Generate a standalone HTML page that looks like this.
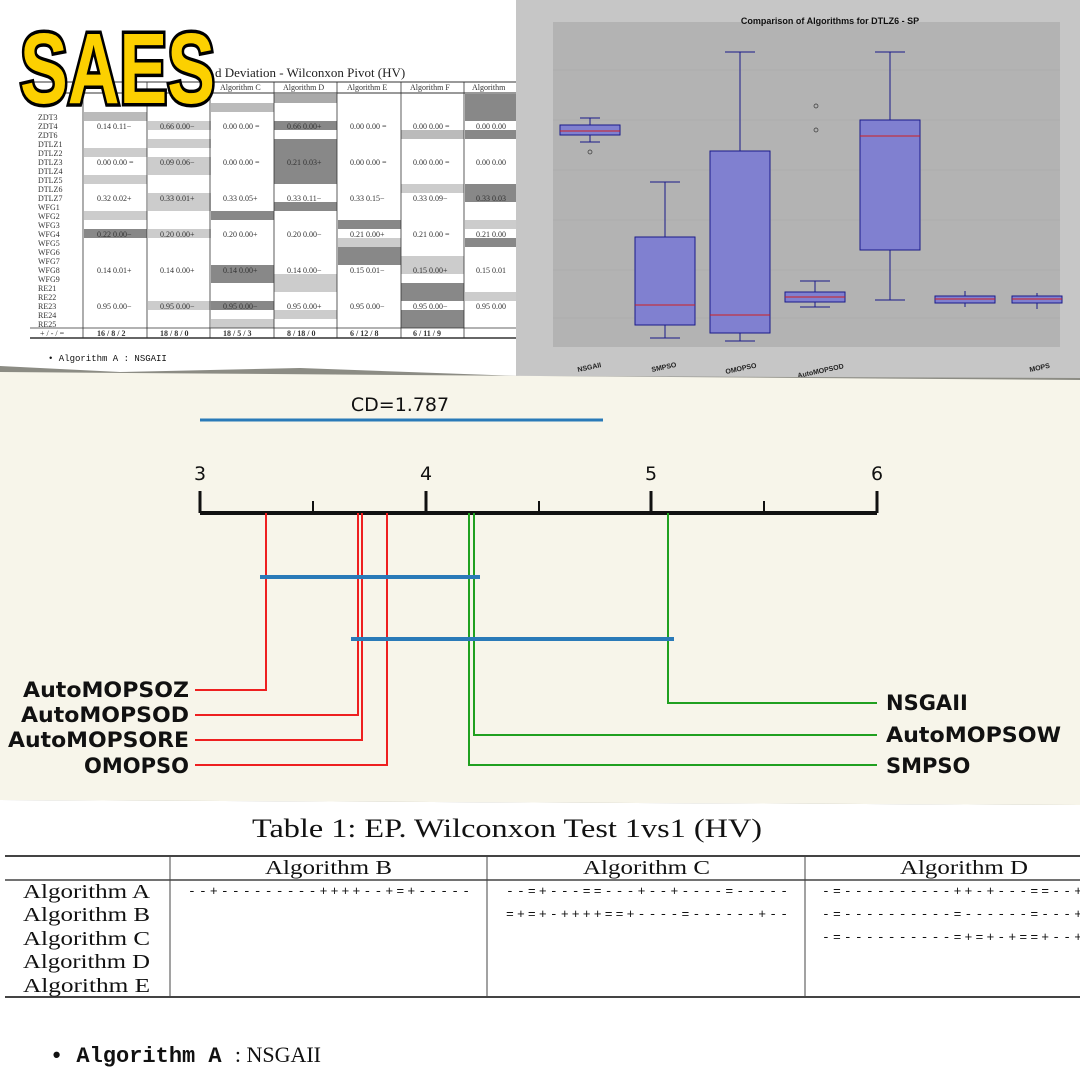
<!DOCTYPE html>
<html><head><meta charset="utf-8"><style>
body{margin:0;width:1080px;height:1080px;overflow:hidden;background:#fff;font-family:"Liberation Serif",serif;position:relative}
.a{position:absolute}
</style></head><body>
<svg class="a" style="left:0;top:0" width="1080" height="1080">
<rect x="0" y="0" width="518" height="372" fill="#fff"/>
<g font-family="Liberation Serif" font-size="8" fill="#333">
<text x="215" y="77" font-size="13" fill="#222">d Deviation - Wilconxon Pivot (HV)</text>
<line x1="30" y1="82" x2="518" y2="82" stroke="#333"/>
<line x1="30" y1="93" x2="518" y2="93" stroke="#333"/>
<text x="220" y="90">Algorithm C</text><text x="283" y="90">Algorithm D</text><text x="347" y="90">Algorithm E</text><text x="410" y="90">Algorithm F</text><text x="472" y="90">Algorithm</text>
<g fill="#aaa">
<rect x="274" y="94" width="63" height="9"/><rect x="465" y="94" width="53" height="9" fill="#888"/>
<rect x="211" y="103" width="63" height="9" fill="#bbb"/><rect x="465" y="103" width="53" height="9" fill="#888"/>
<rect x="84" y="112" width="63" height="9" fill="#bbb"/><rect x="465" y="112" width="53" height="9" fill="#888"/>
<rect x="148" y="121" width="63" height="9" fill="#ccc"/><rect x="274" y="121" width="63" height="9" fill="#888"/>
<rect x="401" y="130" width="63" height="9" fill="#bbb"/><rect x="465" y="130" width="53" height="9" fill="#888"/>
<rect x="148" y="139" width="63" height="9" fill="#ccc"/><rect x="274" y="139" width="63" height="36" fill="#888"/>
<rect x="84" y="148" width="63" height="9" fill="#ccc"/><rect x="148" y="157" width="63" height="18" fill="#ccc"/>
<rect x="84" y="175" width="63" height="9" fill="#ccc"/><rect x="274" y="175" width="63" height="9" fill="#888"/>
<rect x="401" y="184" width="63" height="9" fill="#ccc"/><rect x="465" y="184" width="53" height="18" fill="#888"/>
<rect x="148" y="193" width="63" height="18" fill="#ccc"/><rect x="274" y="202" width="63" height="9" fill="#888"/>
<rect x="84" y="211" width="63" height="9" fill="#ccc"/><rect x="211" y="211" width="63" height="9" fill="#888"/>
<rect x="338" y="220" width="63" height="9" fill="#888"/><rect x="465" y="220" width="53" height="9" fill="#ccc"/>
<rect x="84" y="229" width="63" height="9" fill="#888"/><rect x="148" y="229" width="63" height="9" fill="#ccc"/>
<rect x="338" y="238" width="63" height="9" fill="#ccc"/><rect x="465" y="238" width="53" height="9" fill="#888"/>
<rect x="338" y="247" width="63" height="18" fill="#888"/><rect x="401" y="256" width="63" height="9" fill="#ccc"/>
<rect x="211" y="265" width="63" height="18" fill="#888"/><rect x="401" y="265" width="63" height="9" fill="#ccc"/>
<rect x="274" y="274" width="63" height="18" fill="#ccc"/><rect x="401" y="283" width="63" height="18" fill="#888"/>
<rect x="465" y="292" width="53" height="9" fill="#ccc"/><rect x="148" y="301" width="63" height="9" fill="#ccc"/><rect x="211" y="301" width="63" height="9" fill="#888"/>
<rect x="274" y="310" width="63" height="9" fill="#ccc"/><rect x="401" y="310" width="63" height="18" fill="#888"/><rect x="211" y="319" width="63" height="9" fill="#ccc"/>
</g>
<g stroke="#333" stroke-width="0.8">
<line x1="83" y1="82" x2="83" y2="338"/><line x1="147" y1="82" x2="147" y2="338"/><line x1="210" y1="82" x2="210" y2="338"/><line x1="274" y1="82" x2="274" y2="338"/><line x1="337" y1="82" x2="337" y2="338"/><line x1="401" y1="82" x2="401" y2="338"/><line x1="464" y1="82" x2="464" y2="338"/>
<line x1="30" y1="328" x2="518" y2="328"/><line x1="30" y1="338" x2="518" y2="338" stroke-width="1.5"/>
</g>
<g>
<text x="38" y="120">ZDT3</text><text x="38" y="129">ZDT4</text><text x="38" y="138">ZDT6</text><text x="38" y="147">DTLZ1</text><text x="38" y="156">DTLZ2</text><text x="38" y="165">DTLZ3</text><text x="38" y="174">DTLZ4</text><text x="38" y="183">DTLZ5</text><text x="38" y="192">DTLZ6</text><text x="38" y="201">DTLZ7</text><text x="38" y="210">WFG1</text><text x="38" y="219">WFG2</text><text x="38" y="228">WFG3</text><text x="38" y="237">WFG4</text><text x="38" y="246">WFG5</text><text x="38" y="255">WFG6</text><text x="38" y="264">WFG7</text><text x="38" y="273">WFG8</text><text x="38" y="282">WFG9</text><text x="38" y="291">RE21</text><text x="38" y="300">RE22</text><text x="38" y="309">RE23</text><text x="38" y="318">RE24</text><text x="38" y="327">RE25</text>
<text x="40" y="336">+ / - / =</text>
</g>
<g>
<text x="97" y="129">0.14 0.11−</text><text x="160" y="129">0.66 0.00−</text><text x="223" y="129">0.00 0.00 =</text><text x="287" y="129">0.66 0.00+</text><text x="350" y="129">0.00 0.00 =</text><text x="413" y="129">0.00 0.00 =</text><text x="476" y="129">0.00 0.00</text>
<text x="97" y="165">0.00 0.00 =</text><text x="160" y="165">0.09 0.06−</text><text x="223" y="165">0.00 0.00 =</text><text x="287" y="165">0.21 0.03+</text><text x="350" y="165">0.00 0.00 =</text><text x="413" y="165">0.00 0.00 =</text><text x="476" y="165">0.00 0.00</text>
<text x="97" y="201">0.32 0.02+</text><text x="160" y="201">0.33 0.01+</text><text x="223" y="201">0.33 0.05+</text><text x="287" y="201">0.33 0.11−</text><text x="350" y="201">0.33 0.15−</text><text x="413" y="201">0.33 0.09−</text><text x="476" y="201">0.33 0.03</text>
<text x="97" y="237">0.22 0.00−</text><text x="160" y="237">0.20 0.00+</text><text x="223" y="237">0.20 0.00+</text><text x="287" y="237">0.20 0.00−</text><text x="350" y="237">0.21 0.00+</text><text x="413" y="237">0.21 0.00 =</text><text x="476" y="237">0.21 0.00</text>
<text x="97" y="273">0.14 0.01+</text><text x="160" y="273">0.14 0.00+</text><text x="223" y="273">0.14 0.00+</text><text x="287" y="273">0.14 0.00−</text><text x="350" y="273">0.15 0.01−</text><text x="413" y="273">0.15 0.00+</text><text x="476" y="273">0.15 0.01</text>
<text x="97" y="309">0.95 0.00−</text><text x="160" y="309">0.95 0.00−</text><text x="223" y="309">0.95 0.00−</text><text x="287" y="309">0.95 0.00+</text><text x="350" y="309">0.95 0.00−</text><text x="413" y="309">0.95 0.00−</text><text x="476" y="309">0.95 0.00</text>
<text x="97" y="336" font-weight="bold">16 / 8 / 2</text><text x="160" y="336" font-weight="bold">18 / 8 / 0</text><text x="223" y="336" font-weight="bold">18 / 5 / 3</text><text x="287" y="336" font-weight="bold">8 / 18 / 0</text><text x="350" y="336" font-weight="bold">6 / 12 / 8</text><text x="413" y="336" font-weight="bold">6 / 11 / 9</text>
</g>
<text x="48" y="361" font-family="Liberation Mono" font-size="9" fill="#111">• Algorithm A : NSGAII</text>
</g>
<!-- boxplot panel -->
<rect x="516" y="0" width="564" height="380" fill="#c6c6c6"/>
<rect x="553" y="22" width="507" height="325" fill="#b3b3b3"/>
<text x="830" y="24" font-family="Liberation Sans" font-size="9" font-weight="bold" text-anchor="middle" fill="#111">Comparison of Algorithms for DTLZ6 - SP</text>
<g stroke="#a8a8a8" stroke-width="0.6"><line x1="553" y1="70" x2="1060" y2="70"/><line x1="553" y1="120" x2="1060" y2="120"/><line x1="553" y1="170" x2="1060" y2="170"/><line x1="553" y1="220" x2="1060" y2="220"/><line x1="553" y1="270" x2="1060" y2="270"/><line x1="553" y1="318" x2="1060" y2="318"/></g>
<g stroke="#1a1a8a" stroke-width="1" fill="#8080d0">
<line x1="590" y1="118" x2="590" y2="142"/><line x1="580" y1="118" x2="600" y2="118"/><line x1="580" y1="142" x2="600" y2="142"/><rect x="560" y="125" width="60" height="10"/>
<line x1="665" y1="182" x2="665" y2="338"/><line x1="650" y1="182" x2="680" y2="182"/><line x1="650" y1="338" x2="680" y2="338"/><rect x="635" y="237" width="60" height="88"/>
<line x1="740" y1="52" x2="740" y2="341"/><line x1="725" y1="52" x2="755" y2="52"/><line x1="725" y1="341" x2="755" y2="341"/><rect x="710" y="151" width="60" height="182"/>
<line x1="815" y1="281" x2="815" y2="307"/><line x1="800" y1="281" x2="830" y2="281"/><line x1="800" y1="307" x2="830" y2="307"/><rect x="785" y="292" width="60" height="10"/>
<line x1="890" y1="52" x2="890" y2="300"/><line x1="875" y1="52" x2="905" y2="52"/><line x1="875" y1="300" x2="905" y2="300"/><rect x="860" y="120" width="60" height="130"/>
<line x1="965" y1="291" x2="965" y2="307"/><rect x="935" y="296" width="60" height="7"/>
<line x1="1037" y1="293" x2="1037" y2="309"/><rect x="1012" y="296" width="50" height="7"/>
</g>
<g stroke="#d02020" stroke-width="1"><line x1="560" y1="131" x2="620" y2="131"/><line x1="635" y1="305" x2="695" y2="305"/><line x1="710" y1="315" x2="770" y2="315"/><line x1="785" y1="297" x2="845" y2="297"/><line x1="860" y1="136" x2="920" y2="136"/><line x1="935" y1="299" x2="995" y2="299"/><line x1="1012" y1="299" x2="1062" y2="299"/></g>
<g fill="none" stroke="#333" stroke-width="0.7"><circle cx="590" cy="152" r="2"/><circle cx="816" cy="106" r="2"/><circle cx="816" cy="130" r="2"/></g>
<g font-family="Liberation Sans" font-size="7" font-weight="bold" fill="#222"><text x="578" y="372" transform="rotate(-12 578 372)">NSGAII</text><text x="652" y="372" transform="rotate(-12 652 372)">SMPSO</text><text x="726" y="374" transform="rotate(-12 726 374)">OMOPSO</text><text x="798" y="378" transform="rotate(-12 798 378)">AutoMOPSOD</text><text x="1030" y="372" transform="rotate(-12 1030 372)">MOPS</text></g>
<!-- CD panel -->
<path d="M0 366 L120 372 L300 368 L520 376 L1080 378 L1080 805 L0 800 Z" fill="#8c8c84"/>
<path d="M0 372 L1080 380 L1080 805 L0 800 Z" fill="#f7f5ea"/>
<g font-family="DejaVu Sans" fill="#111">
<text x="400" y="411" font-size="19" text-anchor="middle">CD=1.787</text>
<line x1="200" y1="420" x2="603" y2="420" stroke="#2a7ab8" stroke-width="3"/>
<text x="200" y="480" font-size="19" text-anchor="middle">3</text><text x="426" y="480" font-size="19" text-anchor="middle">4</text><text x="651" y="480" font-size="19" text-anchor="middle">5</text><text x="877" y="480" font-size="19" text-anchor="middle">6</text>
</g>
<g stroke="#111" stroke-width="3"><line x1="200" y1="513" x2="877" y2="513" stroke-width="4"/><line x1="200" y1="491" x2="200" y2="513"/><line x1="426" y1="491" x2="426" y2="513"/><line x1="651" y1="491" x2="651" y2="513"/><line x1="877" y1="491" x2="877" y2="513"/><line x1="313" y1="501" x2="313" y2="513" stroke-width="2"/><line x1="539" y1="501" x2="539" y2="513" stroke-width="2"/><line x1="764" y1="501" x2="764" y2="513" stroke-width="2"/></g>
<g fill="none" stroke="#ee2020" stroke-width="2"><polyline points="266,513 266,690 195,690"/><polyline points="358,513 358,715 195,715"/><polyline points="362,513 362,740 195,740"/><polyline points="387,513 387,765 195,765"/></g>
<g fill="none" stroke="#20a020" stroke-width="2"><polyline points="668,513 668,703 877,703"/><polyline points="474,513 474,735 877,735"/><polyline points="469,513 469,765 877,765"/></g>
<g stroke="#2a7ab8" stroke-width="4"><line x1="260" y1="577" x2="480" y2="577"/><line x1="351" y1="639" x2="674" y2="639"/></g>
<g font-family="DejaVu Sans" font-weight="bold" font-size="21" fill="#111">
<text x="189" y="697" text-anchor="end" textLength="166" lengthAdjust="spacingAndGlyphs">AutoMOPSOZ</text><text x="189" y="722" text-anchor="end" textLength="168" lengthAdjust="spacingAndGlyphs">AutoMOPSOD</text><text x="189" y="747" text-anchor="end" textLength="181" lengthAdjust="spacingAndGlyphs">AutoMOPSORE</text><text x="189" y="773" text-anchor="end">OMOPSO</text>
<text x="886" y="710">NSGAII</text><text x="886" y="742" textLength="175" lengthAdjust="spacingAndGlyphs">AutoMOPSOW</text><text x="886" y="773">SMPSO</text>
</g>
<!-- bottom -->
<text x="252" y="837" font-family="Liberation Serif" font-size="26" fill="#111" textLength="510" lengthAdjust="spacingAndGlyphs">Table 1: EP. Wilconxon Test 1vs1 (HV)</text>
<g stroke="#444"><line x1="5" y1="856" x2="1080" y2="856" stroke-width="2"/><line x1="5" y1="880" x2="1080" y2="880" stroke-width="1.5"/><line x1="5" y1="997" x2="1080" y2="997" stroke-width="2"/><line x1="170" y1="856" x2="170" y2="997"/><line x1="487" y1="856" x2="487" y2="997"/><line x1="805" y1="856" x2="805" y2="997"/></g>
<g font-family="Liberation Serif" font-size="20" fill="#111">
<text x="265" y="874" textLength="127" lengthAdjust="spacingAndGlyphs">Algorithm B</text><text x="583" y="874" textLength="127" lengthAdjust="spacingAndGlyphs">Algorithm C</text><text x="900" y="874" textLength="128" lengthAdjust="spacingAndGlyphs">Algorithm D</text>
<text x="23" y="898" textLength="127" lengthAdjust="spacingAndGlyphs">Algorithm A</text><text x="23" y="921" textLength="127" lengthAdjust="spacingAndGlyphs">Algorithm B</text><text x="23" y="945" textLength="127" lengthAdjust="spacingAndGlyphs">Algorithm C</text><text x="23" y="968" textLength="127" lengthAdjust="spacingAndGlyphs">Algorithm D</text><text x="23" y="992" textLength="127" lengthAdjust="spacingAndGlyphs">Algorithm E</text>
</g>
<g font-family="Liberation Mono" font-size="13" fill="#111">
<text x="188" y="895" textLength="282" lengthAdjust="spacing">--+---------++++--+=+-----</text>
<text x="506" y="895" textLength="282" lengthAdjust="spacing">--=+---==---+--+----=-----</text>
<text x="506" y="918" textLength="282" lengthAdjust="spacing">=+=+-++++==+----=------+--</text>
<text x="822" y="895" textLength="260" lengthAdjust="spacing">-=----------++-+---==--+</text>
<text x="822" y="918" textLength="260" lengthAdjust="spacing">-=----------=------=---+</text>
<text x="822" y="941" textLength="260" lengthAdjust="spacing">-=----------=+=+-+==+--+</text>
</g>
<text x="50" y="1062" font-size="22" fill="#111" font-family="Liberation Mono" font-weight="bold">• Algorithm A <tspan font-family="Liberation Serif" font-weight="normal">: NSGAII</tspan></text>
<!-- SAES logo -->
<text x="20" y="103" font-family="Liberation Sans" font-weight="bold" font-size="100" fill="#fcd000" stroke="#000" stroke-width="7" paint-order="stroke" textLength="195" lengthAdjust="spacingAndGlyphs">SAES</text>
</svg>
</body></html>
